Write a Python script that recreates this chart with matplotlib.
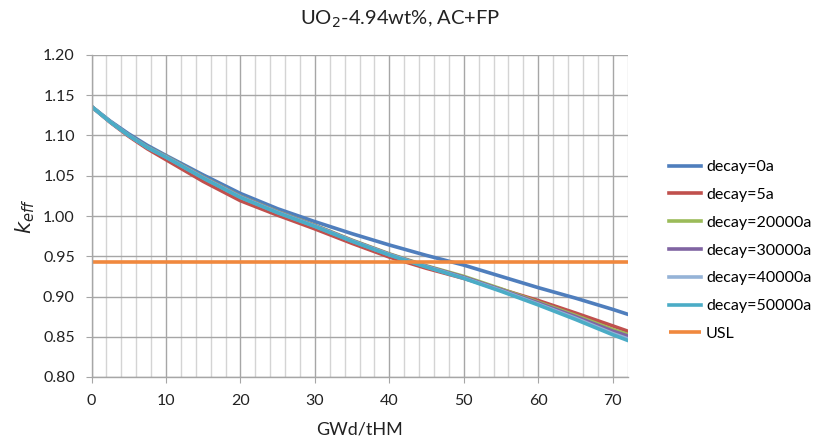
import numpy as np
import matplotlib.pyplot as plt
from matplotlib.ticker import MultipleLocator

plt.rcParams['font.family'] = ['Lato', 'DejaVu Sans']

# burnup points (GWd/tHM)
burnup = [0, 2.5, 5, 7.5, 10, 15, 20, 25, 30, 35, 40, 45, 50, 55, 60, 65, 70, 72]

# keff values
k_0a = [1.136, 1.118, 1.102, 1.0877, 1.0752, 1.051, 1.028, 1.009, 0.993, 0.978,
        0.964, 0.951, 0.939, 0.925, 0.911, 0.898, 0.884, 0.878]
k_5a = [1.136, 1.1165, 1.099, 1.0835, 1.070, 1.043, 1.019, 1.001, 0.984, 0.966,
        0.949, 0.935, 0.9225, 0.909, 0.895, 0.8795, 0.8635, 0.857]
k_20000a = [1.136, 1.117, 1.1003, 1.0858, 1.0742, 1.0485, 1.0245, 1.0055, 0.9885, 0.970,
            0.953, 0.938, 0.925, 0.9095, 0.893, 0.8765, 0.859, 0.853]
k_30000a = [1.136, 1.117, 1.1002, 1.0855, 1.0738, 1.048, 1.024, 1.005, 0.988, 0.9695,
            0.9525, 0.9375, 0.924, 0.9085, 0.892, 0.875, 0.857, 0.851]
k_40000a = [1.136, 1.117, 1.1001, 1.0852, 1.0734, 1.0475, 1.0235, 1.0045, 0.9875, 0.969,
            0.952, 0.937, 0.923, 0.9075, 0.8905, 0.873, 0.854, 0.8475]
k_50000a = [1.136, 1.117, 1.100, 1.085, 1.073, 1.047, 1.023, 1.004, 0.987, 0.9685,
            0.9515, 0.9365, 0.9225, 0.9065, 0.8895, 0.8715, 0.8525, 0.8455]

usl_x = [0, 72]
usl = [0.9432, 0.9432]

series = [
    ('decay=0a', k_0a, '#4F7EBD'),
    ('decay=5a', k_5a, '#C0504D'),
    ('decay=20000a', k_20000a, '#9BBB59'),
    ('decay=30000a', k_30000a, '#8064A2'),
    ('decay=40000a', k_40000a, '#95B3D7'),
    ('decay=50000a', k_50000a, '#4BACC6'),
]

fig = plt.figure(figsize=(8.14, 4.47), dpi=100)
ax = fig.add_axes([91.5 / 814, 1 - 377 / 447, (627.6 - 91.5) / 814, (377 - 55) / 447])

for nome, valores, cor in series:
    ax.plot(burnup, valores, color=cor, lw=2.6, label=nome, solid_joinstyle='round')
ax.plot(usl_x, usl, color='#F0883E', lw=2.6, label='USL', solid_capstyle='butt')

ax.set_xlim(0, 72)
ax.set_ylim(0.80, 1.20)
ax.xaxis.set_major_locator(MultipleLocator(10))
ax.xaxis.set_minor_locator(MultipleLocator(2))
ax.yaxis.set_major_locator(MultipleLocator(0.05))
ax.yaxis.set_major_formatter(plt.FormatStrFormatter('%.2f'))

ax.grid(True, which='major', axis='both', color='#A6A6A6', lw=1.0)
ax.grid(True, which='minor', axis='x', color='#D4D4D4', lw=1.0)
ax.set_axisbelow(True)

for s in ['top', 'right']:
    ax.spines[s].set_visible(False)
for s in ['left', 'bottom']:
    ax.spines[s].set_color('#A6A6A6')
    ax.spines[s].set_linewidth(1.0)

ax.tick_params(axis='both', which='major', direction='out', length=4, color='#A6A6A6',
               labelsize=11.5, labelcolor='#222222', pad=8)
ax.tick_params(axis='x', which='minor', length=0)

ax.set_xlabel('GWd/tHM', fontsize=13, color='#222222', labelpad=10)
ax.set_ylabel(r'$k_{eff}$', fontsize=15, color='#222222', labelpad=4)

fig.text(400 / 814, 1 - 19 / 447, r'UO$_2$-4.94wt%, AC+FP', ha='center', va='center',
         fontsize=14.5, color='#222222')

ax.legend(loc='center left', bbox_to_anchor=(655 / 814, 1 - 250.5 / 447),
          bbox_transform=fig.transFigure, frameon=False, fontsize=11.5,
          handlelength=2.0, handletextpad=0.3, labelspacing=0.85)

fig.savefig('out.png', dpi=100)
